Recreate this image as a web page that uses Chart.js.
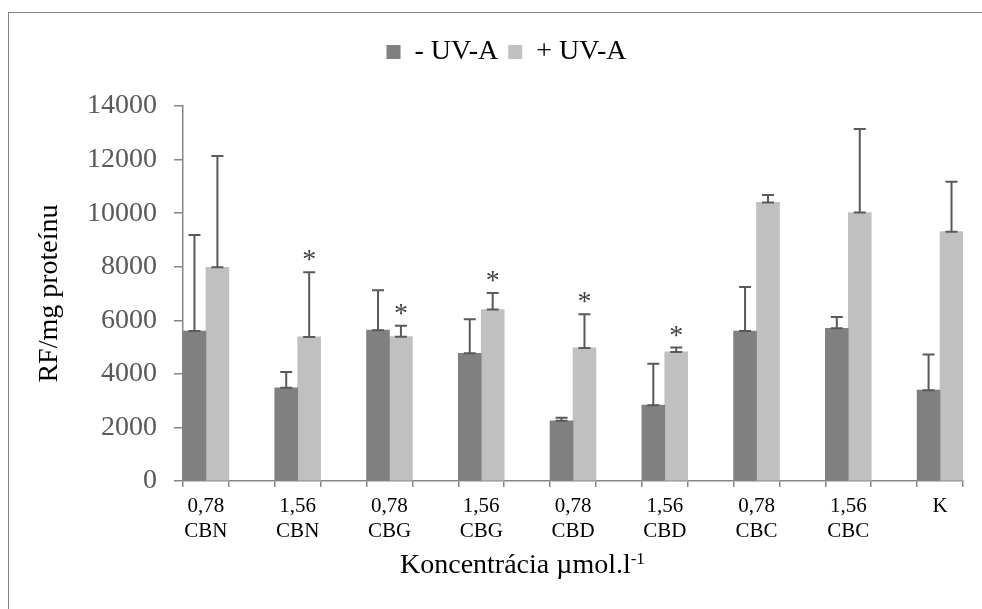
<!DOCTYPE html>
<html>
<head>
<meta charset="utf-8">
<script src="https://cdn.jsdelivr.net/npm/chart.js@4.4.1/dist/chart.umd.min.js"></script>
<style>
  html, body { margin: 0; padding: 0; background: #fff; overflow: hidden; }
  #frame { position: absolute; left: 8px; top: 12px; width: 1200px; height: 800px;
           border-top: 1px solid #858585; border-left: 1px solid #858585; }
  #wrap { position: absolute; left: 0; top: 0; width: 982px; height: 609px; }
</style>
</head>
<body>
<div id="frame"></div>
<div id="wrap"><canvas id="myChart" width="982" height="609"></canvas></div>
<script>
// skupiny: koncentrácia + látka
const concentrations = ['0,78', '1,56', '0,78', '1,56', '0,78', '1,56', '0,78', '1,56', ''];
const compounds = ['CBN', 'CBN', 'CBG', 'CBG', 'CBD', 'CBD', 'CBC', 'CBC', 'K'];

// priemer a smerodajná odchýlka (len kladná časť)
const minusUVA = [5600, 3480, 5630, 4770, 2250, 2830, 5600, 5700, 3390];
const minusUVAErr = [3580, 590, 1490, 1270, 110, 1550, 1640, 420, 1330];
const plusUVA = [7980, 5380, 5390, 6400, 4970, 4820, 10400, 10020, 9310];
const plusUVAErr = [4150, 2410, 410, 620, 1260, 160, 280, 3120, 1860];
const significant = [false, true, true, true, true, true, false, false, false];

const yMin = 0;
const yMax = 14000;
const yStep = 2000;

const serif = 'Liberation Serif';

// medzi skupinami je vždy jedna prázdna kategória
const slotLabels = [];
const minusSlots = [], minusErrSlots = [];
const plusSlots = [], plusErrSlots = [], starSlots = [];
compounds.forEach((c, i) => {
  if (i > 0) {
    slotLabels.push('');
    minusSlots.push(null); minusErrSlots.push(null);
    plusSlots.push(null); plusErrSlots.push(null); starSlots.push(false);
  }
  slotLabels.push(concentrations[i] ? [concentrations[i], c] : [c]);
  minusSlots.push(minusUVA[i]); minusErrSlots.push(minusUVAErr[i]);
  plusSlots.push(plusUVA[i]); plusErrSlots.push(plusUVAErr[i]);
  starSlots.push(significant[i]);
});

// chybové úsečky + hviezdičky
const errorBars = {
  id: 'errorBars',
  afterDatasetsDraw(chart) {
    const ctx = chart.ctx;
    const yScale = chart.scales.y;
    chart.data.datasets.forEach((ds, di) => {
      const meta = chart.getDatasetMeta(di);
      meta.data.forEach((bar, i) => {
        const v = ds.data[i];
        if (v == null) return;
        const top = yScale.getPixelForValue(v + ds.errors[i]);
        ctx.save();
        ctx.strokeStyle = '#595959';
        ctx.lineWidth = 2;
        ctx.beginPath();
        ctx.moveTo(bar.x, bar.y);
        ctx.lineTo(bar.x, top);
        ctx.moveTo(bar.x - 6, top);
        ctx.lineTo(bar.x + 6, top);
        ctx.moveTo(bar.x - 6, bar.y);
        ctx.lineTo(bar.x + 6, bar.y);
        ctx.stroke();
        if (ds.stars && ds.stars[i]) {
          ctx.fillStyle = '#404040';
          ctx.font = '28px "' + serif + '"';
          ctx.textAlign = 'center';
          ctx.textBaseline = 'alphabetic';
          ctx.fillText('*', bar.x, top - 4);
        }
        ctx.restore();
      });
    });
  }
};

// názov osi x s horným indexom
const xTitle = {
  id: 'xTitle',
  afterDraw(chart) {
    const ctx = chart.ctx;
    ctx.save();
    ctx.fillStyle = '#000';
    ctx.textAlign = 'left';
    ctx.textBaseline = 'alphabetic';
    ctx.font = '28px "' + serif + '"';
    const main = 'Koncentrácia µmol.l';
    const x0 = 400;
    ctx.fillText(main, x0, 573);
    const w = ctx.measureText(main).width;
    ctx.font = '17px "' + serif + '"';
    ctx.fillText('-1', x0 + w, 564);
    ctx.restore();
  }
};

// výška a poloha legendy
const legendSpace = {
  id: 'legendSpace',
  beforeInit(chart) {
    const fit = chart.legend.fit;
    chart.legend.fit = function () {
      fit.call(this);
      this.height = 78;
    };
  },
  afterLayout(chart) {
    chart.legend.left = 50;
  }
};

const ctx = document.getElementById('myChart').getContext('2d');
const myChart = new Chart(ctx, {
  type: 'bar',
  data: {
    labels: slotLabels,
    datasets: [
      {
        label: '- UV-A',
        data: minusSlots,
        errors: minusErrSlots,
        backgroundColor: '#808080',
        borderWidth: 0
      },
      {
        label: '+ UV-A',
        data: plusSlots,
        errors: plusErrSlots,
        stars: starSlots,
        backgroundColor: '#c0c0c0',
        borderWidth: 0
      }
    ]
  },
  options: {
    responsive: false,
    animation: false,
    devicePixelRatio: 1,
    layout: { padding: { left: 0, top: 28, right: 19, bottom: 0 } },
    datasets: { bar: { categoryPercentage: 1, barPercentage: 1 } },
    plugins: {
      legend: {
        position: 'top',
        labels: {
          boxWidth: 14,
          boxHeight: 14,
          padding: 10,
          color: '#000',
          font: { family: serif, size: 28 }
        }
      },
      tooltip: { enabled: false }
    },
    scales: {
      x: {
        offset: true,
        grid: {
          offset: true,
          drawOnChartArea: false,
          drawTicks: true,
          tickLength: 6,
          color: '#868686',
          lineWidth: 1.5
        },
        border: { color: '#868686', width: 1.5 },
        ticks: {
          autoSkip: false,
          maxRotation: 0,
          padding: 7,
          color: '#000',
          font: { family: serif, size: 21, lineHeight: 1.2 }
        },
        afterFit(scale) { scale.height = 128; }
      },
      y: {
        min: yMin,
        max: yMax,
        grid: {
          drawOnChartArea: false,
          drawTicks: true,
          tickLength: 9,
          color: '#868686',
          lineWidth: 1.5
        },
        border: { color: '#868686', width: 1.5 },
        ticks: {
          stepSize: yStep,
          padding: 17,
          color: '#595959',
          font: { family: serif, size: 28 },
          callback: (v) => String(v)
        },
        title: {
          display: true,
          text: 'RF/mg proteínu',
          color: '#000',
          font: { family: serif, size: 28, lineHeight: 1.2 },
          padding: { top: 33, bottom: 0 }
        },
        afterFit(scale) { scale.width = 183; }
      }
    }
  },
  plugins: [errorBars, xTitle, legendSpace]
});
</script>
</body>
</html>
